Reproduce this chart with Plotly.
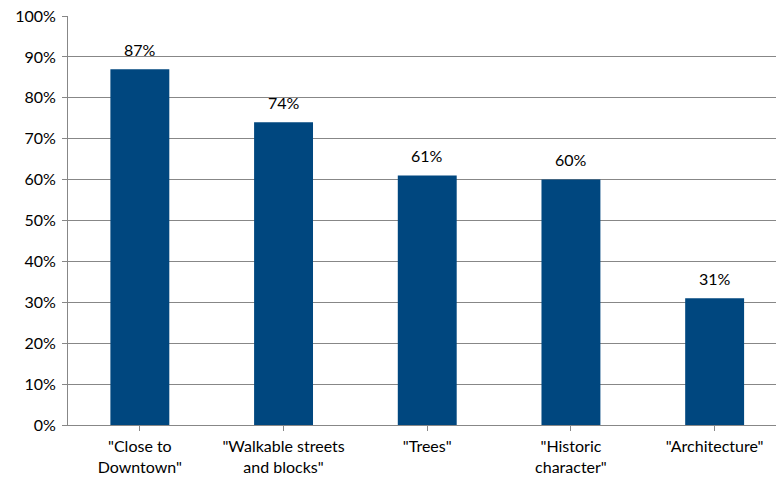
import plotly.graph_objects as go

categories = ['"Close to<br>Downtown"', '"Walkable streets<br>and blocks"', '"Trees"',
              '"Historic<br>character"', '"Architecture"']
values = [0.87, 0.74, 0.61, 0.60, 0.31]
labels = ["87%", "74%", "61%", "60%", "31%"]

xs = list(range(len(categories)))
fig = go.Figure(go.Bar(
    x=xs, y=values,
    marker=dict(color="#00477f", line=dict(width=0)),
    width=0.41,
))
for x, v, t in zip(xs, values, labels):
    fig.add_annotation(x=x, y=v, text=t, showarrow=False, yshift=20,
                       font=dict(size=16, color="black"))

fig.update_layout(
    width=776, height=481,
    margin=dict(l=68, r=0, t=16, b=56),
    paper_bgcolor="white", plot_bgcolor="white",
    font=dict(family="Lato, Open Sans, sans-serif", size=16, color="black"),
    showlegend=False,
)
fig.update_xaxes(
    range=[-0.5, 4.427], tickmode="array", tickvals=xs,
    ticktext=categories, tickson="boundaries", ticks="outside", ticklen=5,
    tickcolor="#878787", showline=True, linecolor="#878787", linewidth=1,
    showgrid=False, tickfont=dict(size=16), zeroline=False, automargin=False,
    ticklabelstandoff=2,
)
fig.update_yaxes(
    range=[0, 1], dtick=0.1, tickformat=".0%",
    ticks="outside", ticklen=5,
    tickcolor="#878787", showline=True, linecolor="#878787", linewidth=1,
    showgrid=True, gridcolor="#878787", gridwidth=1, zeroline=False,
    tickfont=dict(size=16), automargin=False, ticklabelstandoff=3,
)
fig.write_html("out.html", post_script="document.body.style.margin='0';",
               config={"displayModeBar": False})
